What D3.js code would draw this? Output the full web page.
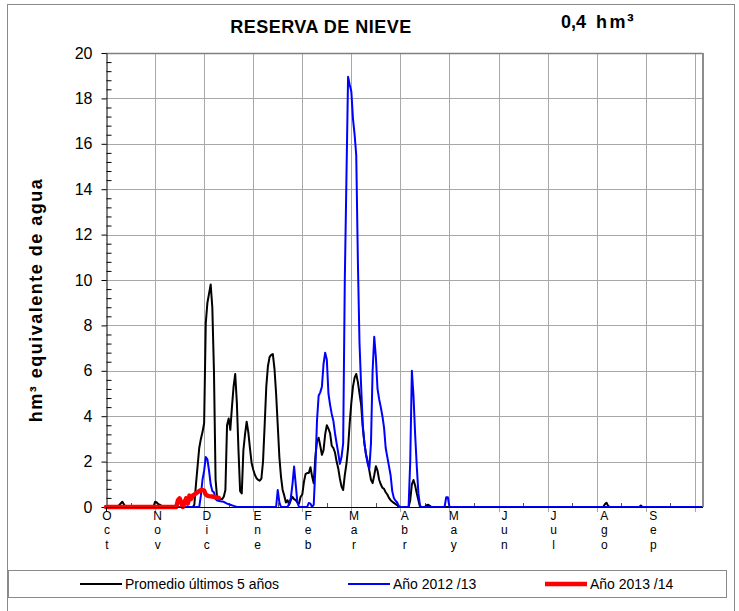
<!DOCTYPE html>
<html>
<head>
<meta charset="utf-8">
<script src="https://cdn.jsdelivr.net/npm/d3@7"></script>
<style>
  body { margin: 0; background: #fff; }
  svg { display: block; font-family: "Liberation Sans", Arial, sans-serif; }
</style>
</head>
<body>
<svg id="chart" width="739" height="611"></svg>
<script>
// Hydrological year, day 0 = 1 October
const monthLabels = ["Oct", "Nov", "Dic", "Ene", "Feb", "Mar", "Abr", "May", "Jun", "Jul", "Ago", "Sep"];
const monthStartDays = [0, 31, 61, 92, 123, 151, 182, 212, 243, 273, 304, 334];
const yTickValues = [0, 2, 4, 6, 8, 10, 12, 14, 16, 18, 20];

// [day, hm³]
const promedio5 = [
  [0,0],[7,0],[10,0.23],[12,0],[29,0],[30,0.23],[31,0.2],[32,0.12],[33,0.1],[34,0.05],[35,0],
  [53,0],[54,0.1],[55,1.0],[56,1.8],[57,2.6],[58,3.0],[59,3.3],[60,3.7],[61,8.1],[62,9.0],
  [63,9.4],[64,9.8],[65,8.8],[66,6.0],[67,1.2],[68,0.35],[69,0.3],[70,0.35],[71,0.35],[72,0.45],
  [73,0.75],[74,3.6],[75,3.9],[76,3.4],[77,4.4],[78,5.3],[79,5.86],[80,4.6],[81,2.5],[82,0.7],
  [83,0.6],[84,2.5],[85,3.2],[86,3.76],[87,3.3],[88,2.6],[89,1.95],[90,1.65],[91,1.42],[92,1.27],
  [93,1.2],[94,1.16],[95,1.25],[96,2.0],[97,3.6],[98,5.3],[99,6.2],[100,6.6],[101,6.7],[102,6.74],
  [103,6.1],[104,5.0],[105,3.6],[106,2.2],[107,1.33],[108,0.75],[109,0.5],[110,0.2],[111,0.3],
  [112,0.1],[113,0.3],[114,0.45],[115,0.35],[116,0.3],[117,0.2],[118,0.15],[119,0.45],[120,0.55],
  [121,1.1],[122,1.45],[123,1.5],[124,1.5],[125,1.75],[126,1.35],[127,1.05],[128,2.2],[129,2.9],
  [130,3.05],[131,2.7],[132,2.3],[133,2.5],[134,3.2],[135,3.6],[136,3.45],[137,3.25],[138,2.7],
  [139,2.6],[140,2.4],[141,2.0],[142,1.7],[143,1.25],[144,0.9],[145,0.75],[146,1.4],[147,1.9],
  [148,2.6],[149,3.7],[150,4.6],[151,5.3],[152,5.7],[153,5.86],[154,5.5],[155,5.0],[156,4.5],
  [157,3.5],[158,2.8],[159,2.3],[160,2.0],[161,1.6],[162,1.2],[163,1.05],[164,1.4],[165,1.8],
  [166,1.6],[167,1.2],[168,1.0],[169,0.85],[170,0.8],[171,0.65],[172,0.55],[173,0.4],[174,0.3],
  [176,0.18],[178,0.08],[179,0],[185,0],[186,0.3],[187,1.0],[188,1.19],[189,0.95],[190,0.6],
  [191,0.3],[192,0],[195,0],[196,0.08],[197,0.1],[198,0.05],[199,0],
  [304,0],[305,0.12],[306,0.19],[307,0.05],[308,0],[326,0],[327,0.06],[328,0],[364,0]
];

const anio2012 = [
  [0,0],[57,0],[58,0.5],[59,1.2],[60,1.6],[61,2.2],[62,2.1],[63,1.6],[64,1.0],[65,0.7],[66,0.65],
  [67,0.35],[68,0.28],[70,0.25],[72,0.23],[74,0.15],[76,0.1],[78,0.05],[80,0],
  [104,0],[105,0.75],[106,0.2],[107,0],[111,0],[112,0.15],[113,0.4],[114,1.0],[115,1.78],
  [116,1.0],[117,0.2],[118,0],[123,0],[124,0.18],[125,0.15],[126,0],[127,0.1],[128,1.7],
  [129,3.8],[130,4.9],[131,5.05],[132,5.3],[133,6.3],[134,6.8],[135,6.5],[136,5.0],[137,4.5],
  [138,4.1],[139,3.8],[140,3.25],[141,2.8],[142,2.37],[143,1.9],[144,2.2],[145,2.8],[146,10.0],
  [147,14.5],[148,18.95],[149,18.6],[150,18.3],[151,17.1],[152,16.4],[153,15.5],[154,10.8],
  [155,7.2],[156,5.3],[157,3.6],[158,2.8],[159,2.3],[160,1.9],[161,1.7],[162,2.8],[163,6.0],
  [164,7.5],[165,6.6],[166,5.2],[167,4.75],[168,4.4],[169,4.0],[170,3.5],[171,2.6],[172,2.2],
  [173,1.8],[174,1.4],[175,0.7],[176,0.4],[177,0.28],[178,0.2],[179,0.05],[180,0],
  [185,0],[186,2.0],[187,6.0],[188,4.9],[189,3.2],[190,1.8],[191,0.6],[192,0.05],[193,0],
  [207,0],[208,0.43],[209,0.43],[210,0],[364,0]
];

const anio2013 = [
  [0,0],[43,0],[44,0.3],[45,0.38],[46,0.2],[47,0],[48,0.2],[49,0.38],[50,0.15],[51,0.5],
  [52,0.35],[53,0.5],[54,0.55],[55,0.6],[56,0.65],[57,0.7],[58,0.75],[59,0.75],[60,0.72],
  [61,0.55],[62,0.5],[63,0.48],[65,0.46],[67,0.43],[69,0.4]
];

const seriesNames = ["Promedio últimos 5 años", "Año 2012 /13", "Año 2013 /14"];
const seriesColors = ["#000000", "#0000ff", "#ff0000"];
const seriesWidths = [2, 2, 4.5];

const svg = d3.select("#chart");
const plotL = 106, plotR = 703, plotT = 53, plotB = 507;

const x = d3.scaleLinear().domain([0, 365]).range([plotL, plotR]);
const y = d3.scaleLinear().domain([0, 20]).range([plotB, plotT]);

// outer frame
svg.append("rect").attr("x", 7.5).attr("y", 4.5).attr("width", 727).attr("height", 620)
  .attr("fill", "none").attr("stroke", "#8a8a8a").attr("stroke-width", 1);

// grid
const gridDays = d3.range(30, 365, 30);
const minorDays = d3.range(15, 365, 30);
const grid = svg.append("g");
grid.selectAll("line.h").data(yTickValues.filter(v => v > 0 && v < 20)).join("line")
  .attr("x1", plotL).attr("x2", plotR)
  .attr("y1", d => Math.round(y(d)) + 0.5).attr("y2", d => Math.round(y(d)) + 0.5)
  .attr("stroke", "#a8a8a8").attr("stroke-width", 1);
grid.selectAll("line.v").data(gridDays).join("line")
  .attr("x1", d => Math.round(x(d)) + 0.5).attr("x2", d => Math.round(x(d)) + 0.5)
  .attr("y1", plotT).attr("y2", plotB + 5)
  .attr("stroke", "#a8a8a8").attr("stroke-width", 1);

// minor ticks on the time axis
svg.append("g").selectAll("line").data(minorDays).join("line")
  .attr("x1", d => Math.round(x(d)) + 0.5).attr("x2", d => Math.round(x(d)) + 0.5)
  .attr("y1", plotB).attr("y2", plotB - 4)
  .attr("stroke", "#555").attr("stroke-width", 1);

// top and right border of the plot
svg.append("line").attr("x1", plotL).attr("x2", plotR).attr("y1", plotT + 0.5).attr("y2", plotT + 0.5)
  .attr("stroke", "#808080").attr("stroke-width", 1.5);
svg.append("line").attr("x1", plotR).attr("x2", plotR).attr("y1", plotT).attr("y2", plotB)
  .attr("stroke", "#8c8c8c").attr("stroke-width", 2);

// y axis
const yAxis = d3.axisLeft(y).tickValues(yTickValues).tickSize(5).tickSizeOuter(0).tickPadding(9)
  .tickFormat(d3.format("d"));
const gy = svg.append("g").attr("transform", `translate(${plotL + 0.5},0)`).call(yAxis);
gy.select(".domain").attr("stroke", "#000");
gy.selectAll(".tick line").attr("stroke", "#000");
gy.selectAll(".tick text").attr("font-size", 16).attr("font-family", "Liberation Sans, Arial, sans-serif")
  .attr("fill", "#000");

// minor y ticks, inside the plot
const minorY = d3.range(0, 20.001, 0.4).map(v => +v.toFixed(1)).filter(v => Math.abs(v / 2 - Math.round(v / 2)) > 1e-6);
const yMinor = d3.axisRight(y).tickValues(minorY).tickSize(5).tickSizeOuter(0).tickFormat("");
const gym = svg.append("g").attr("transform", `translate(${plotL + 0.5},0)`).call(yMinor);
gym.select(".domain").remove();
gym.selectAll(".tick line").attr("stroke", "#000");

// series
const line = d3.line().x(d => x(d[0])).y(d => y(d[1]));
[promedio5, anio2012, anio2013].forEach((s, i) => {
  svg.append("path").datum(s).attr("d", line)
    .attr("fill", "none").attr("stroke", seriesColors[i]).attr("stroke-width", seriesWidths[i])
    .attr("stroke-linejoin", "round").attr("stroke-linecap", "round");
});

// x axis line
svg.append("line").attr("x1", plotL).attr("x2", plotR).attr("y1", plotB + 0.5).attr("y2", plotB + 0.5)
  .attr("stroke", "#000").attr("stroke-width", 1);
svg.append("line").attr("x1", plotL + 0.5).attr("x2", plotL + 0.5).attr("y1", plotB).attr("y2", plotB + 5)
  .attr("stroke", "#000");

// month labels, letters stacked vertically
const mLab = svg.append("g").attr("font-size", 12).attr("fill", "#000").attr("text-anchor", "middle");
monthLabels.forEach((m, i) => {
  const t = mLab.append("text").attr("x", x(monthStartDays[i]) + 1).attr("y", 519.5);
  m.split("").forEach((ch, j) => {
    t.append("tspan").attr("x", x(monthStartDays[i]) + 1).attr("dy", j === 0 ? 0 : 14.5).text(ch);
  });
});

// y axis title
svg.append("text").attr("transform", "translate(42,300) rotate(-90)")
  .attr("text-anchor", "middle").attr("font-size", 18).attr("font-weight", "bold")
  .attr("letter-spacing", 1.5)
  .text("hm³ equivalente de agua");

// title and current reserve
svg.append("text").attr("x", 321).attr("y", 33).attr("text-anchor", "middle")
  .attr("font-size", 18).attr("font-weight", "bold").attr("letter-spacing", 0.5)
  .text("RESERVA DE NIEVE");
const current = anio2013[anio2013.length - 1][1];
const fmt = v => d3.format(".1f")(v).replace(".", ",");
const cur = svg.append("text").attr("x", 561).attr("y", 28).attr("font-size", 18).attr("font-weight", "bold");
cur.append("tspan").text(fmt(current));
cur.append("tspan").attr("dx", 10).attr("letter-spacing", 2.5).text("hm");
cur.append("tspan").attr("font-size", 20).attr("dx", -1).text("³");

// legend
const lg = svg.append("g");
lg.append("rect").attr("x", 8.5).attr("y", 570.5).attr("width", 718).attr("height", 27)
  .attr("fill", "#fff").attr("stroke", "#8a8a8a");
const legendLineX = [80, 348, 545];
seriesNames.forEach((name, i) => {
  lg.append("line").attr("x1", legendLineX[i]).attr("x2", legendLineX[i] + 42)
    .attr("y1", 584).attr("y2", 584)
    .attr("stroke", seriesColors[i]).attr("stroke-width", seriesWidths[i] === 2 ? 2 : 4.5);
  lg.append("text").attr("x", legendLineX[i] + 45).attr("y", 589)
    .attr("font-size", 14).attr("fill", "#000").text(name);
});
</script>
</body>
</html>
